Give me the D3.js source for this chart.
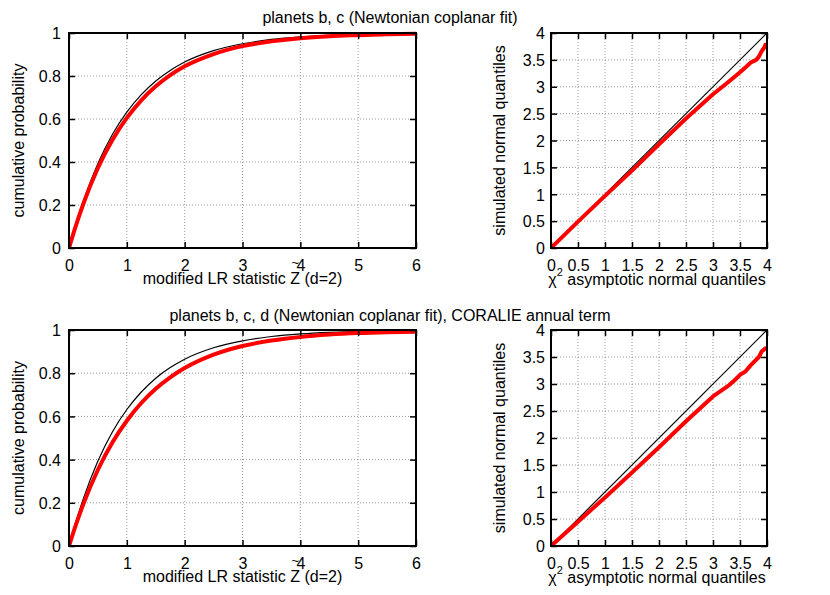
<!DOCTYPE html>
<html>
<head>
<meta charset="utf-8">
<script src="https://cdn.jsdelivr.net/npm/d3@7"></script>
<style>
  html, body { margin: 0; padding: 0; background: #fff; }
  svg { display: block; }
  text { font-family: "Liberation Sans", Arial, Helvetica, sans-serif; fill: #000; }
</style>
</head>
<body>
<svg id="chart" width="830" height="595"></svg>
<script>
// ---------------- data ----------------
const titles = ["planets b, c (Newtonian coplanar fit)",
                "planets b, c, d (Newtonian coplanar fit), CORALIE annual term"];

const cdfX        = [0, 0.1, 0.25, 0.5, 0.75, 1, 1.25, 1.5, 1.75, 2, 2.5, 3, 3.5, 4, 4.5, 5, 5.5, 6];
const cdfBlack    = [0, 0.095, 0.22, 0.393, 0.528, 0.632, 0.713, 0.777, 0.826, 0.865, 0.918, 0.95, 0.97, 0.982, 0.989, 0.993, 0.996, 0.998];
const cdfRedTop   = [0, 0.088, 0.207, 0.372, 0.502, 0.605, 0.687, 0.752, 0.804, 0.845, 0.902, 0.939, 0.961, 0.976, 0.985, 0.99, 0.994, 0.996];
const cdfRedBot   = [0, 0.083, 0.195, 0.353, 0.479, 0.58, 0.662, 0.728, 0.781, 0.824, 0.886, 0.926, 0.951, 0.968, 0.979, 0.986, 0.99, 0.992];

const qqLine      = [0, 4];
const qqXTop      = [0, 0.5, 1, 1.5, 2, 2.5, 3, 3.25, 3.5, 3.6, 3.7, 3.8, 3.85, 3.9, 3.95, 3.97];
const qqYTop      = [0, 0.49, 0.97, 1.44, 1.93, 2.41, 2.86, 3.06, 3.27, 3.36, 3.45, 3.5, 3.56, 3.66, 3.73, 3.78];
const qqXBot      = [0, 0.5, 1, 1.5, 2, 2.5, 3, 3.3, 3.4, 3.5, 3.6, 3.7, 3.85, 3.9, 3.97];
const qqYBot      = [0, 0.45, 0.9, 1.36, 1.83, 2.31, 2.77, 2.98, 3.07, 3.17, 3.23, 3.35, 3.5, 3.6, 3.66];

const cdfXTicks   = [0, 1, 2, 3, 4, 5, 6];
const cdfYTicks   = [0, 0.2, 0.4, 0.6, 0.8, 1];
const qqTicks     = [0, 0.5, 1, 1.5, 2, 2.5, 3, 3.5, 4];

// ---------------- drawing ----------------
const svg = d3.select("#chart");
const FS = 16;

function panel(opts) {
  const { left, right, top, bottom, xDom, yDom, xTicks, yTicks, series, yLabel, yLabelX, xLabel, tickGap } = opts;
  const x = d3.scaleLinear().domain(xDom).range([left, right]);
  const y = d3.scaleLinear().domain(yDom).range([bottom, top]);
  const g = svg.append("g");
  const fmt = d => String(+d.toFixed(2));

  // grid
  g.selectAll(".gx").data(xTicks.filter(t => t !== xDom[0] && t !== xDom[1])).enter().append("line")
    .attr("x1", d => x(d)).attr("x2", d => x(d)).attr("y1", top).attr("y2", bottom)
    .attr("stroke", "#999").attr("stroke-width", 1).attr("stroke-dasharray", "1,2");
  g.selectAll(".gy").data(yTicks.filter(t => t !== yDom[0] && t !== yDom[1])).enter().append("line")
    .attr("y1", d => y(d)).attr("y2", d => y(d)).attr("x1", left).attr("x2", right)
    .attr("stroke", "#999").attr("stroke-width", 1).attr("stroke-dasharray", "1,2");

  // series
  const clipId = "clip" + Math.round(left) + "_" + Math.round(top);
  svg.append("clipPath").attr("id", clipId).append("rect")
    .attr("x", left).attr("y", top - 2).attr("width", right - left).attr("height", bottom - top + 2);
  const sg = g.append("g").attr("clip-path", `url(#${clipId})`);
  series.forEach(s => {
    const pts = s.xs.map((v, i) => [v, s.ys[i]]);
    const line = d3.line().x(d => x(d[0])).y(d => y(d[1])).curve(s.curve || d3.curveLinear);
    sg.append("path").datum(pts).attr("d", line)
      .attr("fill", "none").attr("stroke", s.color).attr("stroke-width", s.width)
      .attr("stroke-linejoin", "round").attr("stroke-linecap", "round");
  });

  // axes (ticks inward, mirrored)
  const tl = 6;
  const axB = d3.axisBottom(x).tickValues(xTicks).tickSize(-tl).tickFormat(fmt).tickPadding(0);
  const axT = d3.axisTop(x).tickValues(xTicks).tickSize(-tl).tickFormat("");
  const axL = d3.axisLeft(y).tickValues(yTicks).tickSize(-tl).tickFormat(fmt).tickPadding(0);
  const axR = d3.axisRight(y).tickValues(yTicks).tickSize(-tl).tickFormat("");
  const styleAx = sel => {
    sel.select(".domain").remove();
    sel.selectAll(".tick line").attr("stroke", "#000").attr("stroke-width", 1.5);
    sel.selectAll("text").attr("font-size", FS).attr("font-family", "Liberation Sans, Arial, sans-serif").attr("fill", "#000");
  };
  const gb = g.append("g").attr("transform", `translate(0,${bottom})`).call(axB).call(styleAx);
  gb.selectAll(".tick text").attr("y", tickGap).attr("dy", 0);
  g.append("g").attr("transform", `translate(0,${top})`).call(axT).call(styleAx);
  const gl = g.append("g").attr("transform", `translate(${left},0)`).call(axL).call(styleAx);
  gl.selectAll(".tick text").attr("x", -opts.yTickGap).attr("dy", "0.36em");
  g.append("g").attr("transform", `translate(${right},0)`).call(axR).call(styleAx);

  // border
  g.append("rect").attr("x", left).attr("y", top).attr("width", right - left).attr("height", bottom - top)
    .attr("fill", "none").attr("stroke", "#000").attr("stroke-width", 2);

  // y label
  svg.append("text").attr("transform", `translate(${yLabelX},${(top + bottom) / 2}) rotate(-90)`)
    .attr("text-anchor", "middle").attr("font-size", FS).text(yLabel);

  // x label
  xLabel(x, y, left, right, bottom);
}

function cdfXLabel(x, y, left, right, bottom) {
  const cx = (left + right) / 2;
  const by = bottom + 36;
  const t = svg.append("text").attr("x", cx).attr("y", by).attr("text-anchor", "middle").attr("font-size", FS);
  const pre = "modified LR statistic ";
  t.text(pre + "Z (d=2)");
  const node = t.node();
  const total = node.getComputedTextLength();
  const start = cx - total / 2;
  const zStart = start + node.getSubStringLength(0, pre.length);
  const zW = node.getSubStringLength(pre.length, 1);
  svg.append("text").attr("x", zStart + zW / 2).attr("y", by - 17).attr("text-anchor", "middle")
    .attr("font-size", 13).text("~");
}

function qqXLabel(x, y, left, right, bottom) {
  const t = svg.append("text").attr("x", (left + right) / 2 - 2).attr("y", bottom + 37)
    .attr("text-anchor", "middle").attr("font-size", FS);
  t.append("tspan").text("χ");
  t.append("tspan").attr("dy", -9).attr("font-size", 11).text("2");
  t.append("tspan").attr("dy", 9).text(" asymptotic normal quantiles");
}

const rows = [
  { top: 33, bottom: 248, title: titles[0], titleY: 23, red: cdfRedTop, qx: qqXTop, qy: qqYTop },
  { top: 330, bottom: 546, title: titles[1], titleY: 321, red: cdfRedBot, qx: qqXBot, qy: qqYBot }
];

rows.forEach(r => {
  svg.append("text").attr("x", 390).attr("y", r.titleY).attr("text-anchor", "middle")
    .attr("font-size", FS).text(r.title);

  panel({
    left: 69, right: 416, top: r.top, bottom: r.bottom,
    xDom: [0, 6], yDom: [0, 1], xTicks: cdfXTicks, yTicks: cdfYTicks,
    tickGap: 23, yTickGap: 8,
    series: [
      { xs: cdfX, ys: cdfBlack, color: "#000", width: 1.2, curve: d3.curveMonotoneX },
      { xs: cdfX, ys: r.red, color: "#ff0000", width: 4, curve: d3.curveMonotoneX }
    ],
    yLabel: "cumulative probability", yLabelX: 24, xLabel: cdfXLabel
  });

  panel({
    left: 551, right: 767, top: r.top, bottom: r.bottom,
    xDom: [0, 4], yDom: [0, 4], xTicks: qqTicks, yTicks: qqTicks,
    tickGap: 23, yTickGap: 6,
    series: [
      { xs: qqLine, ys: qqLine, color: "#000", width: 1.2 },
      { xs: r.qx, ys: r.qy, color: "#ff0000", width: 4 }
    ],
    yLabel: "simulated normal quantiles", yLabelX: 505, xLabel: qqXLabel
  });
});
</script>
</body>
</html>
